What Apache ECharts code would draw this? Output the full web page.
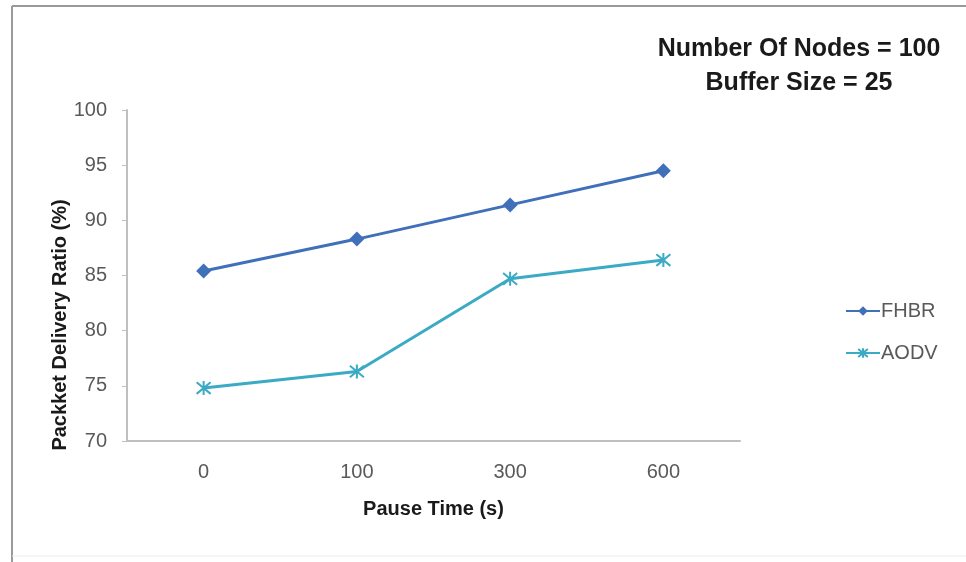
<!DOCTYPE html>
<html>
<head>
<meta charset="utf-8">
<script src="https://cdn.jsdelivr.net/npm/echarts@6/dist/echarts.min.js"></script>
<style>
  html, body { margin: 0; padding: 0; background: #ffffff; }
  #chart { width: 966px; height: 562px; }
</style>
</head>
<body>
<div id="chart"></div>
<script>
// Pause time categories and packet delivery ratio (%) for each protocol
const pauseTimes = ['0', '100', '300', '600'];
const fhbrRatio = [85.4, 88.3, 91.4, 94.5];
const aodvRatio = [74.8, 76.3, 84.7, 86.4];
const yTicks = { min: 70, max: 100, step: 5 };
const titleLines = ['Number Of Nodes = 100', 'Buffer Size = 25'];

const FONT = '"Liberation Sans", Arial, sans-serif';
const asterisk = 'path://M0,0 L10,10 M10,0 L0,10 M5,-1 L5,11';

const chart = echarts.init(document.getElementById('chart'));
chart.setOption({
  animation: false,
  backgroundColor: '#ffffff',
  title: {
    text: titleLines.join('\n'),
    left: 794,
    top: 27,
    textAlign: 'center',
    textStyle: {
      fontFamily: FONT,
      fontWeight: 'bold',
      fontSize: 25,
      lineHeight: 34,
      color: '#1a1a1a'
    }
  },
  graphic: [
    { type: 'line', shape: { x1: 12, y1: 6, x2: 966, y2: 6 }, style: { stroke: '#9a9a9a', lineWidth: 2 } },
    { type: 'line', shape: { x1: 12, y1: 6, x2: 12, y2: 562 }, style: { stroke: '#9a9a9a', lineWidth: 2 } },
    { type: 'line', shape: { x1: 12, y1: 556, x2: 966, y2: 556 }, style: { stroke: '#ececec', lineWidth: 1 } },
    {
      type: 'text',
      x: 60, y: 325,
      rotation: Math.PI / 2,
      style: {
        text: 'Packket Delivery Ratio (%)',
        fontFamily: FONT,
        fontWeight: 'bold',
        fontSize: 20,
        fill: '#1a1a1a',
        align: 'center',
        verticalAlign: 'middle'
      }
    }
  ],
  legend: {
    orient: 'vertical',
    left: 840,
    top: 296,
    itemWidth: 34,
    itemHeight: 12,
    itemGap: 22,
    textStyle: { fontFamily: FONT, fontSize: 20, color: '#595959', padding: [0, 0, 0, -4] },
    data: ['FHBR', 'AODV']
  },
  grid: { left: 127, top: 110, width: 613, height: 331, containLabel: false },
  xAxis: {
    type: 'category',
    data: pauseTimes,
    boundaryGap: true,
    name: 'Pause Time (s)',
    nameLocation: 'middle',
    nameGap: 58,
    nameTextStyle: { fontFamily: FONT, fontWeight: 'bold', fontSize: 20, color: '#1a1a1a' },
    axisLine: { lineStyle: { color: '#bfbfbf', width: 2 } },
    axisTick: { show: false },
    axisLabel: { fontFamily: FONT, fontSize: 20, color: '#595959', margin: 21 }
  },
  yAxis: {
    type: 'value',
    min: yTicks.min,
    max: yTicks.max,
    interval: yTicks.step,
    axisLine: { show: true, lineStyle: { color: '#bfbfbf', width: 2 } },
    axisTick: { show: true, length: 5, lineStyle: { color: '#bfbfbf' } },
    splitLine: { show: false },
    axisLabel: { fontFamily: FONT, fontSize: 20, color: '#595959', margin: 20 }
  },
  series: [
    {
      name: 'FHBR',
      type: 'line',
      data: fhbrRatio,
      symbol: 'diamond',
      symbolSize: 15,
      lineStyle: { color: '#4070BA', width: 3 },
      itemStyle: { color: '#4070BA' }
    },
    {
      name: 'AODV',
      type: 'line',
      data: aodvRatio,
      symbol: asterisk,
      symbolSize: 14,
      lineStyle: { color: '#3BAAC4', width: 3 },
      itemStyle: { color: '#3BAAC4', borderColor: '#3BAAC4', borderWidth: 2 }
    }
  ]
});
</script>
</body>
</html>
